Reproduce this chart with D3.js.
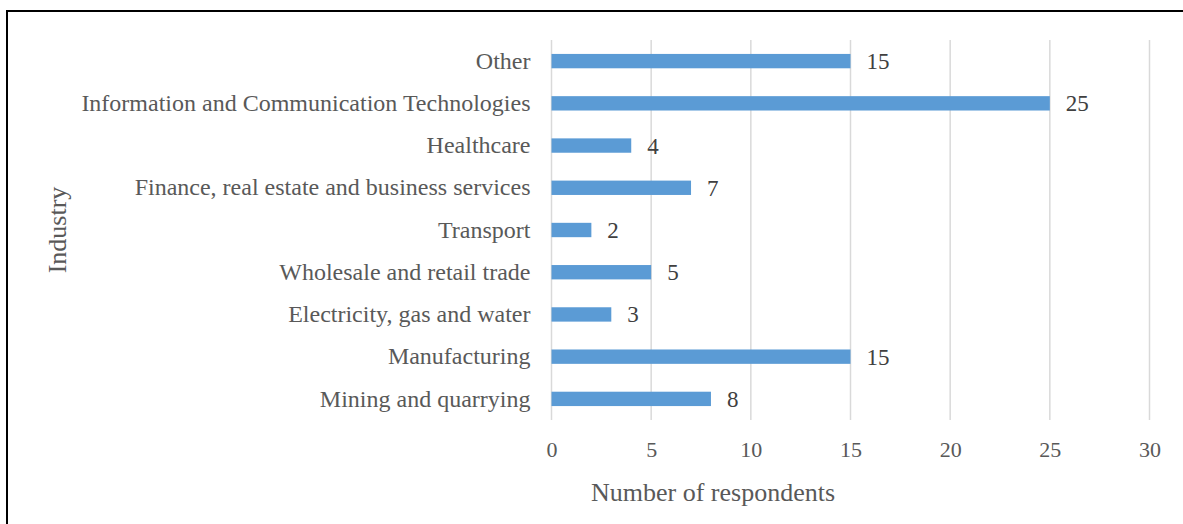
<!DOCTYPE html>
<html>
<head>
<meta charset="utf-8">
<script src="https://cdn.jsdelivr.net/npm/d3@7"></script>
<style>
  body { margin: 0; background: #fff; }
  text { font-family: "Liberation Serif", "Times New Roman", serif; fill: #595959; }
</style>
</head>
<body>
<div id="chart"></div>
<script>
// categories top to bottom, with number of respondents
var industries = ["Other", "Information and Communication Technologies", "Healthcare",
  "Finance, real estate and business services", "Transport", "Wholesale and retail trade",
  "Electricity, gas and water", "Manufacturing", "Mining and quarrying"];
var respondents = [15, 25, 4, 7, 2, 5, 3, 15, 8];
var xTicks = [0, 5, 10, 15, 20, 25, 30];

var width = 1183;
var height = 524;

var svg = d3.select("#chart").append("svg")
    .attr("width", width)
    .attr("height", height);

// outer frame (runs off the right and bottom of the picture)
svg.append("rect")
    .attr("x", 7).attr("y", 11)
    .attr("width", 1200).attr("height", 600)
    .attr("fill", "none")
    .attr("stroke", "#000")
    .attr("stroke-width", 2);

var x = d3.scaleLinear().domain([0, 30]).range([551.5, 1149.5]);
var y = d3.scaleBand().domain(industries).range([40, 420])
    .paddingInner(0.66).paddingOuter(0.33);

// gridlines
svg.append("g").selectAll("line")
    .data(xTicks)
    .enter().append("line")
      .attr("x1", d => x(d)).attr("x2", d => x(d))
      .attr("y1", 40).attr("y2", 420)
      .attr("stroke", "#d9d9d9")
      .attr("stroke-width", 1.5);

// bars
svg.append("g").selectAll("rect")
    .data(respondents)
    .enter().append("rect")
      .attr("x", x(0))
      .attr("y", (d, i) => y(industries[i]))
      .attr("width", d => x(d) - x(0))
      .attr("height", y.bandwidth())
      .attr("fill", "#5b9bd5");

// value labels
svg.append("g").selectAll("text")
    .data(respondents)
    .enter().append("text")
      .attr("x", d => x(d) + 16)
      .attr("y", (d, i) => y(industries[i]) + y.bandwidth() / 2)
      .attr("dy", "0.35em")
      .style("font-size", "23px")
      .style("fill", "#404040")
      .text(d => d);

// category axis
var yAxis = svg.append("g")
    .attr("transform", "translate(" + (x(0) - 21) + ",0)")
    .call(d3.axisLeft(y).tickSize(0).tickPadding(0));
yAxis.select(".domain").remove();
yAxis.selectAll("text")
    .style("font-size", "24px")
    .style("font-family", "Liberation Serif")
    .attr("fill", "#595959");

// value axis
var xAxis = svg.append("g")
    .attr("transform", "translate(0,420)")
    .call(d3.axisBottom(x).tickValues(xTicks).tickSize(0).tickPadding(21));
xAxis.select(".domain").remove();
xAxis.selectAll("text")
    .style("font-size", "22px")
    .style("font-family", "Liberation Serif")
    .attr("fill", "#595959");

// axis titles
svg.append("text")
    .attr("x", 713).attr("y", 492)
    .attr("dy", "0.35em")
    .attr("text-anchor", "middle")
    .style("font-size", "26px")
    .text("Number of respondents");

svg.append("text")
    .attr("transform", "translate(57,230) rotate(-90)")
    .attr("dy", "0.35em")
    .attr("text-anchor", "middle")
    .style("font-size", "26px")
    .text("Industry");
</script>
</body>
</html>
